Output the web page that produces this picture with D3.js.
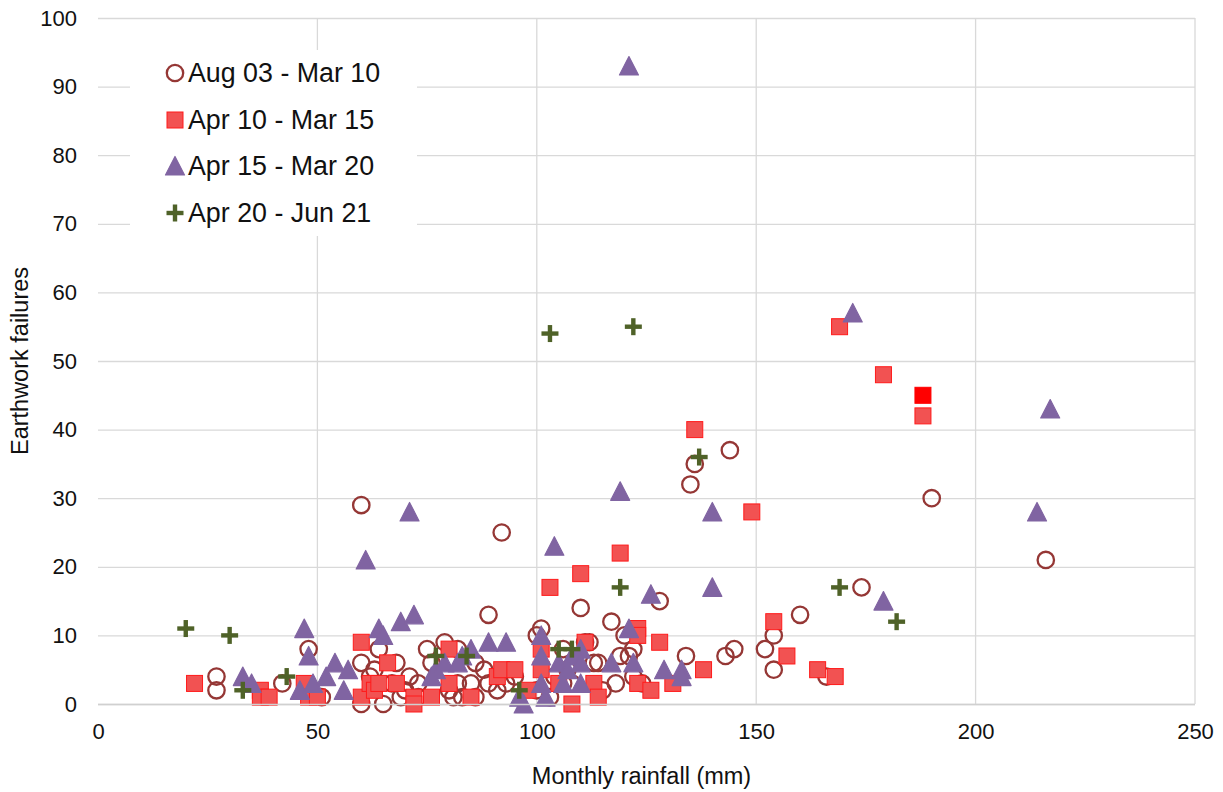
<!DOCTYPE html>
<html>
<head>
<meta charset="utf-8">
<script src="https://cdn.jsdelivr.net/npm/d3@7"></script>
<style>
  html, body { margin: 0; padding: 0; background: #fff; }
  svg { display: block; font-family: "Liberation Sans", Arial, sans-serif; }
</style>
</head>
<body>
<svg id="chart" width="1223" height="792"></svg>
<script>
// ---- DATA ----
const seriesNames = ["Aug 03 - Mar 10", "Apr 10 - Mar 15", "Apr 15 - Mar 20", "Apr 20 - Jun 21"];

const aug03Mar10 = [
  [27,4],[27,2],[42,3],[48,8],[51,1],[60,29],[60,6],[60,0],[62,4],[64,8],[63,5],[65,0],
  [67,3],[68,6],[69,1],[70,2],[71,4],[73,3],[73,1],[75,8],[76,6],[79,9],[80,2],[82,8],
  [82,3],[81,1],[83,1],[85,3],[86,6],[86,1],[88,5],[89,13],[89,3],[91,2],[92,25],[93,3],
  [95,4],[100,2],[100,10],[101,11],[103,1],[104,4],[106,3],[106,8],[107,5],[108,3],
  [110,14],[111,9],[112,9],[113,6],[114,6],[115,2],[117,12],[118,3],[119,7],[120,10],
  [121,7],[122,4],[122,8],[124,3],[128,15],[134,7],[135,32],[136,35],[143,7],[144,37],
  [145,8],[152,8],[154,10],[154,5],[160,13],[166,4],[174,17],[190,30],[216,21]
];

const apr10Mar15 = [
  [22,3],[37,2],[37,1],[39,1],[47,3],[48,1],[50,1],[60,9],[60,1],[62,3],[63,2],[64,3],
  [66,6],[68,3],[72,1],[72,0],[76,1],[80,8],[80,3],[85,1],[91,4],[92,5],[95,5],[98,2],
  [101,8],[101,5],[103,17],[105,3],[108,0],[110,19],[111,9],[113,3],[114,1],[119,22],
  [123,11],[123,10],[123,3],[126,2],[128,9],[131,3],[136,40],[138,5],[149,28],[154,12],
  [157,7],[164,5],[168,4],[169,55],[179,48],[188,45],[188,42]
];
// one highlighted point in this series
const apr10Mar15Highlight = [188,45];

const apr15Mar20 = [
  [33,4],[35,3],[46,2],[47,11],[48,7],[49,3],[52,4],[54,6],[56,2],[57,5],[61,21],[64,11],
  [65,10],[69,12],[71,28],[72,13],[76,4],[77,5],[79,6],[82,6],[83,7],[85,8],[89,9],[93,9],
  [96,1],[97,0],[101,10],[101,7],[101,3],[102,1],[104,23],[105,6],[106,3],[107,5],[108,7],
  [110,8],[110,6],[110,3],[117,6],[119,31],[121,93],[121,11],[122,6],[126,16],[129,5],
  [133,5],[133,4],[140,28],[140,17],[172,57],[179,15],[214,28],[217,43]
];

const apr20Jun21 = [
  [20,11],[30,10],[33,2],[43,4],[77,7],[84,7],[96,2],[103,54],[105,8],[108,8],[119,17],
  [122,55],[137,36],[169,17],[182,12]
];

const xTicks = [0, 50, 100, 150, 200, 250];
const yTicks = [0, 10, 20, 30, 40, 50, 60, 70, 80, 90, 100];
const xTitle = "Monthly rainfall (mm)";
const yTitle = "Earthwork failures";

// ---- LAYOUT ----
const svg = d3.select("#chart");
const pL = 98, pR = 1195, pT = 18, pB = 704;
const x = d3.scaleLinear().domain([0, 250]).range([pL, pR]);
const y = d3.scaleLinear().domain([0, 100]).range([pB, pT]);

const gridColor = "#D9D9D9";
const textColor = "#111111";

// gridlines
svg.append("g").selectAll("line").data(yTicks).join("line")
  .attr("x1", pL).attr("x2", pR)
  .attr("y1", d => y(d) + 0.5).attr("y2", d => y(d) + 0.5)
  .attr("stroke", gridColor).attr("stroke-width", 1.3);
svg.append("g").selectAll("line").data(xTicks.filter(d => d > 0)).join("line")
  .attr("x1", d => x(d)).attr("x2", d => x(d))
  .attr("y1", pT).attr("y2", pB)
  .attr("stroke", gridColor).attr("stroke-width", 1.3);

// axes (labels only, via d3 axes)
const yAxis = svg.append("g").attr("transform", `translate(${pL},0)`)
  .call(d3.axisLeft(y).tickValues(yTicks).tickSize(0).tickPadding(21));
yAxis.select(".domain").remove();
yAxis.selectAll("text").attr("font-size", 22).attr("fill", textColor)
  .attr("font-family", "Liberation Sans, Arial, sans-serif");

const xAxis = svg.append("g").attr("transform", `translate(0,${pB})`)
  .call(d3.axisBottom(x).tickValues(xTicks).tickSize(0).tickPadding(19));
xAxis.select(".domain").remove();
xAxis.selectAll("text").attr("font-size", 22).attr("fill", textColor)
  .attr("font-family", "Liberation Sans, Arial, sans-serif");

// titles
svg.append("text").attr("x", (pL + pR) / 2 - 5).attr("y", 784)
  .attr("text-anchor", "middle").attr("font-size", 23.5).attr("fill", textColor)
  .text(xTitle);
svg.append("text")
  .attr("transform", `translate(28, ${(pT + pB) / 2}) rotate(-90)`)
  .attr("text-anchor", "middle").attr("font-size", 23.5).attr("fill", textColor)
  .text(yTitle);

// ---- MARKERS ----
const circleColor = "#953735";
const squareFill = "#F25252", squareStroke = "#FF1A1A";
const triColor = "#8064A2";
const plusColor = "#4F6228";

function drawCircle(g, cx, cy) {
  g.append("circle").attr("cx", cx).attr("cy", cy).attr("r", 8.2)
    .attr("fill", "none").attr("stroke", circleColor).attr("stroke-width", 2.3);
}
function drawSquare(g, cx, cy, fill) {
  g.append("rect").attr("x", cx - 8).attr("y", cy - 8).attr("width", 16).attr("height", 16)
    .attr("fill", fill || squareFill).attr("stroke", fill ? "#FF0000" : squareStroke).attr("stroke-width", 1);
}
function drawTri(g, cx, cy) {
  g.append("path").attr("d", `M${cx},${cy - 9.5}L${cx + 9.5},${cy + 9}L${cx - 9.5},${cy + 9}Z`)
    .attr("fill", triColor).attr("stroke", triColor).attr("stroke-width", 1.2)
    .attr("stroke-linejoin", "round");
}
function drawPlus(g, cx, cy) {
  g.append("rect").attr("x", cx - 8.5).attr("y", cy - 2.2).attr("width", 17).attr("height", 4.4).attr("fill", plusColor);
  g.append("rect").attr("x", cx - 2.2).attr("y", cy - 8.5).attr("width", 4.4).attr("height", 17).attr("fill", plusColor);
}

const gA = svg.append("g");
aug03Mar10.forEach(d => drawCircle(gA, x(d[0]), y(d[1])));
const gB = svg.append("g");
apr10Mar15.forEach(d => {
  const hl = d[0] === apr10Mar15Highlight[0] && d[1] === apr10Mar15Highlight[1];
  drawSquare(gB, x(d[0]), y(d[1]), hl ? "#FF0000" : null);
});
const gC = svg.append("g");
apr15Mar20.forEach(d => drawTri(gC, x(d[0]), y(d[1])));
const gD = svg.append("g");
apr20Jun21.forEach(d => drawPlus(gD, x(d[0]), y(d[1])));

// bottom axis line
svg.append("line").attr("x1", pL).attr("x2", pR).attr("y1", pB + 0.5).attr("y2", pB + 0.5)
  .attr("stroke", "#D0D0D0").attr("stroke-width", 1.5);

// ---- LEGEND ----
const lg = svg.append("g");
lg.append("rect").attr("x", 130).attr("y", 50).attr("width", 287).attr("height", 186).attr("fill", "#fff");
const rowsY = [73, 120, 166, 213];
const drawers = [
  (g, cx, cy) => drawCircle(g, cx, cy),
  (g, cx, cy) => drawSquare(g, cx, cy, null),
  (g, cx, cy) => drawTri(g, cx, cy),
  (g, cx, cy) => drawPlus(g, cx, cy)
];
seriesNames.forEach((name, i) => {
  drawers[i](lg, 175, rowsY[i]);
  lg.append("text").attr("x", 188).attr("y", rowsY[i]).attr("dy", "0.35em")
    .attr("font-size", 26.8).attr("fill", textColor).text(name);
});
</script>
</body>
</html>
